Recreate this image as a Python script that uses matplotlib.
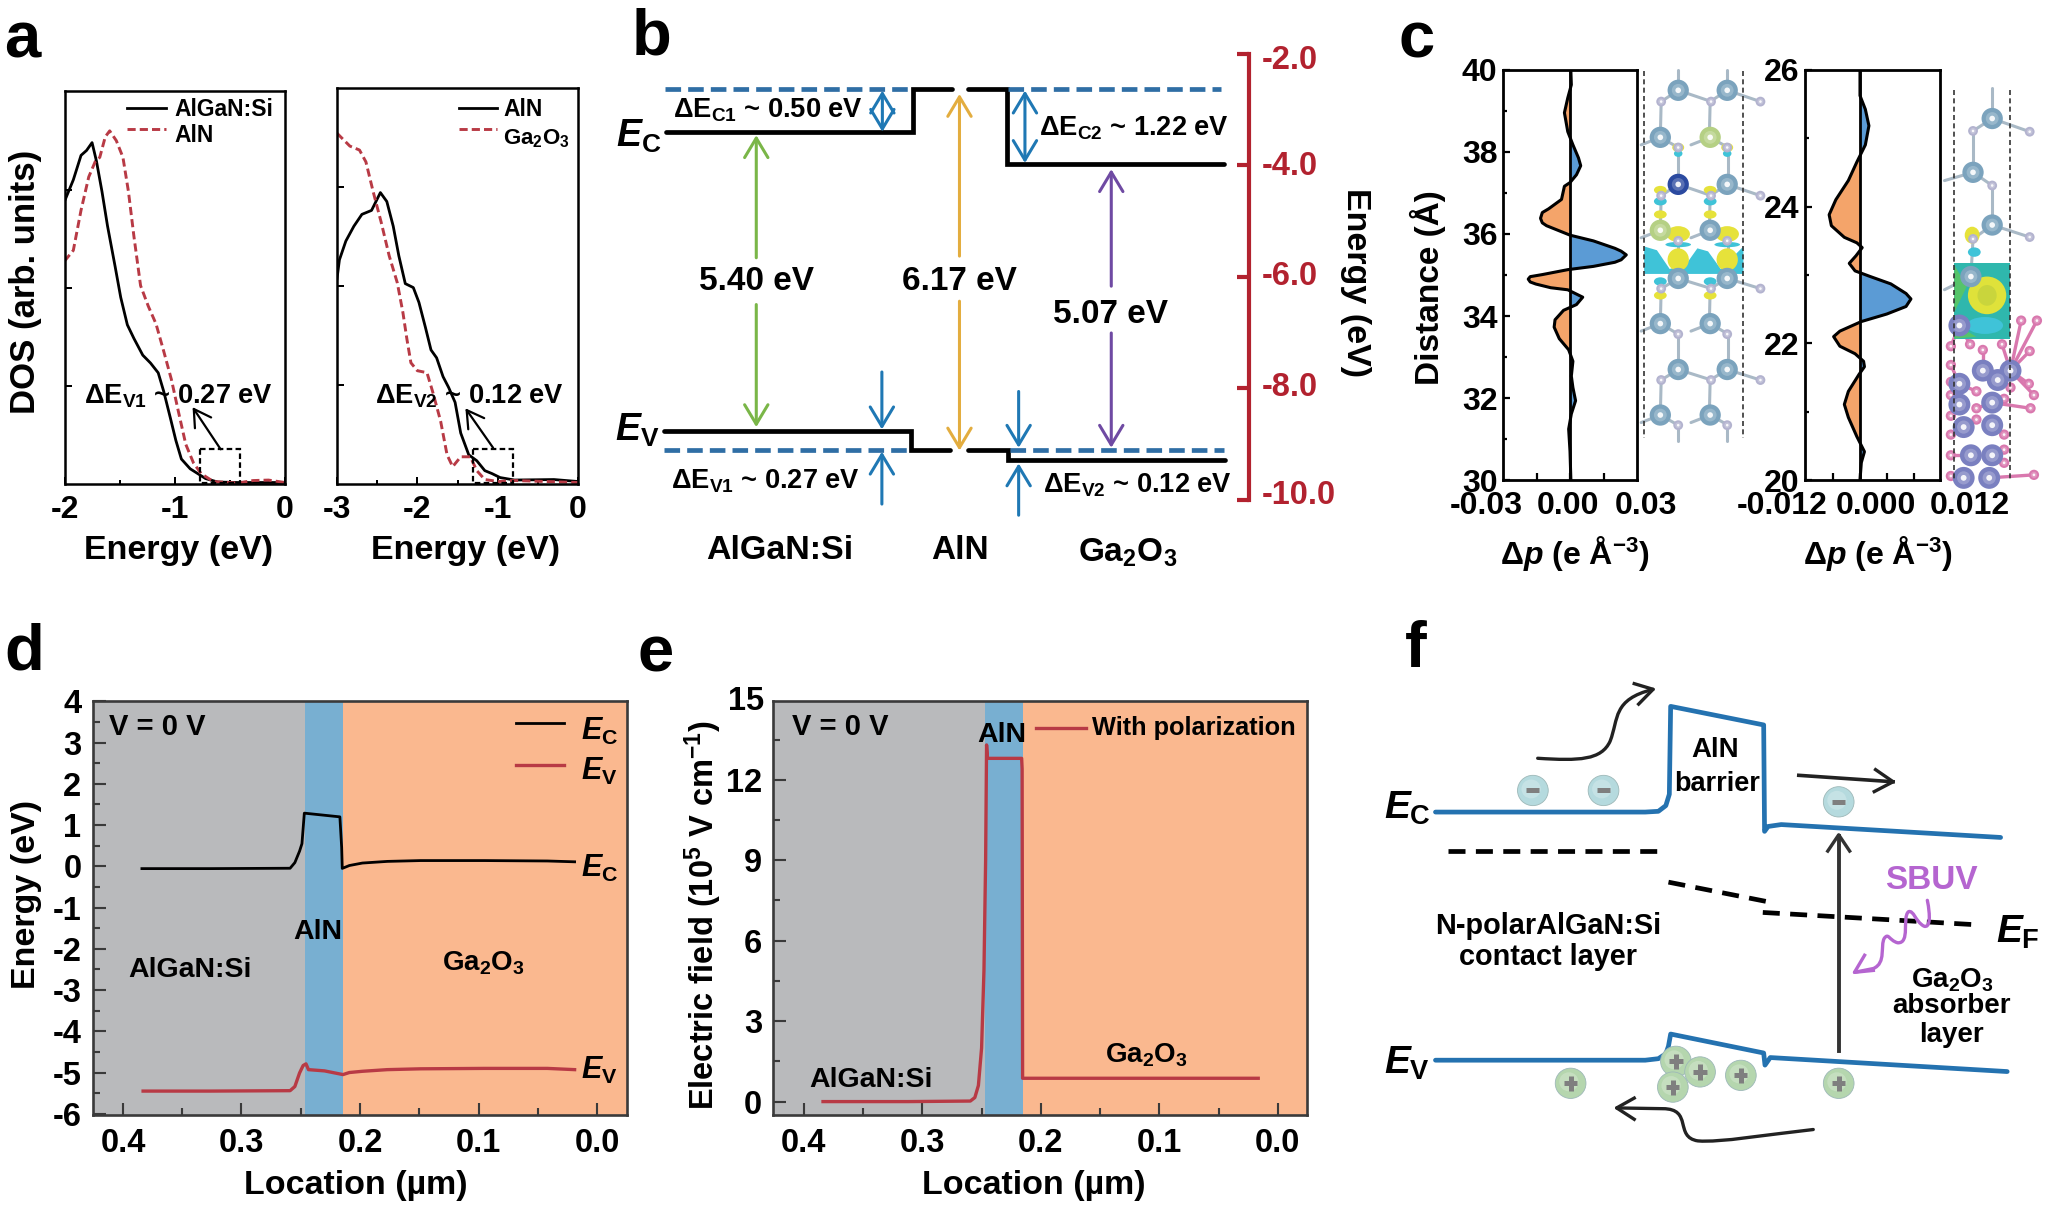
import numpy as np
import matplotlib
matplotlib.use("Agg")
import matplotlib.pyplot as plt
from matplotlib.patches import Ellipse, Rectangle, PathPatch, Polygon
from matplotlib.path import Path

W, H = 2048, 1214
plt.rcParams.update({
    "font.family": ["Liberation Sans", "DejaVu Sans"], "font.weight": "bold",
    "axes.labelweight": "bold", "axes.unicode_minus": False,
    "mathtext.fontset": "custom", "mathtext.rm": "Liberation Sans:bold",
    "mathtext.it": "Liberation Sans:italic:bold", "mathtext.bf": "Liberation Sans:bold",
    "mathtext.default": "rm",
})

# ---------- data ----------
a1_x = [-2.0,-1.92,-1.85,-1.80,-1.75,-1.71,-1.66,-1.61,-1.54,-1.49,-1.43,-1.37,-1.29,-1.22,-1.15,-1.10,-1.04,-0.99,-0.94,-0.86,-0.79,-0.72,-0.61,-0.43,0]
a1_algan = [2.88,3.10,3.35,3.40,3.48,3.29,2.98,2.63,2.21,1.90,1.62,1.48,1.31,1.23,1.13,0.94,0.67,0.44,0.25,0.15,0.10,0.05,0.015,0.01,0.01]
a1_x2 = [-2.0,-1.92,-1.85,-1.78,-1.72,-1.68,-1.63,-1.59,-1.53,-1.47,-1.42,-1.37,-1.31,-1.24,-1.17,-1.10,-1.03,-0.97,-0.90,-0.83,-0.76,-0.65,-0.43,-0.29,-0.15,0]
a1_aln = [2.27,2.38,2.79,3.13,3.29,3.33,3.54,3.60,3.50,3.33,2.98,2.52,2.02,1.81,1.63,1.35,1.06,0.75,0.40,0.21,0.10,0.02,0.005,0.03,0.035,0.01]
a2_x = [-3.0,-2.97,-2.89,-2.79,-2.69,-2.57,-2.46,-2.38,-2.30,-2.23,-2.15,-2.05,-1.98,-1.90,-1.83,-1.76,-1.68,-1.61,-1.53,-1.46,-1.36,-1.26,-1.16,-1.07,-0.97,-0.79,-0.30,0]
a2_aln = [2.07,2.26,2.45,2.60,2.72,2.76,2.94,2.85,2.60,2.30,2.02,1.98,1.83,1.58,1.35,1.27,1.08,0.97,0.82,0.51,0.29,0.23,0.13,0.10,0.06,0.035,0.04,0.02]
a2_x2 = [-3,-2.84,-2.72,-2.64,-2.55,-2.45,-2.35,-2.25,-2.18,-2.13,-2.08,-2.00,-1.88,-1.81,-1.71,-1.63,-1.56,-1.46,-1.34,-1.26,-1.16,-0.99,-0.79,0]
a2_ga = [3.54,3.41,3.37,3.25,2.95,2.64,2.30,2.03,1.73,1.46,1.22,1.14,1.12,0.93,0.63,0.29,0.17,0.27,0.27,0.13,0.04,0.02,0.03,0.01]

ec_algan, ec_aln, ec_ga = -3.40, -2.64, -3.98
ev_algan, ev_aln, ev_ga = -8.76, -9.11, -9.29

c1_dp = [.0004,.0006,-.001,-.0025,-.001,.0013,.0038,.0048,.0029,0,-.0025,-.0038,-.0096,-.0124,-.0132,-.0124,-.0105,0,.0105,.0201,.0229,.0252,.0229,.0201,.0105,-.001,-.0124,-.0178,-.0187,-.0178,-.0153,-.0086,-.001,.0057,.0029,-.0029,-.0067,-.0071,-.0048,-.0006,.0013,.0006,.0013,.0025,.0006,-.0006,0,.0004]
c1_d = [39.95,39.63,39.31,38.95,38.49,38.17,37.85,37.66,37.44,37.25,37.16,36.84,36.61,36.52,36.38,36.27,36.20,35.97,35.83,35.65,35.58,35.49,35.37,35.31,35.21,35.13,35.01,34.96,34.90,34.83,34.78,34.69,34.64,34.46,34.28,34.14,33.91,33.73,33.45,33.18,32.90,32.54,32.26,31.94,31.62,31.25,30.71,30.0]
c2_dp = [0,0,.0012,.0020,.0012,-.0007,-.0026,-.0054,-.0069,-.0064,-.0035,-.0007,.0005,-.0009,-.0024,-.0011,.0022,.0069,.0103,.0114,.0103,.0060,.0003,-.0045,-.0059,-.0045,-.0011,.0008,.0010,-.0002,-.0026,-.0035,-.0026,-.0007,.0010,.0003,0]
c2_d = [25.97,25.62,25.42,25.18,24.90,24.65,24.38,24.10,23.88,23.72,23.55,23.47,23.40,23.28,23.17,23.06,22.98,22.87,22.73,22.65,22.54,22.43,22.32,22.18,22.10,21.96,21.85,21.74,21.66,21.55,21.30,21.11,20.92,20.64,20.42,20.26,20.0]

d_loc_c = [.384,.326,.259,.255,.251,.249,.247,.237,.217,.2155,.215,.209,.198,.177,.149,.095,.042,.019]
d_ec = [-.055,-.055,-.046,.09,.37,.55,1.29,1.26,1.20,.46,-.05,.02,.08,.12,.14,.14,.13,.11]
d_loc_v = [.383,.326,.259,.255,.251,.248,.2456,.2435,.230,.2144,.209,.198,.177,.149,.095,.042,.019]
d_ev = [-5.45,-5.45,-5.44,-5.34,-5.01,-4.83,-4.79,-4.93,-4.96,-5.05,-5.0,-4.97,-4.93,-4.91,-4.90,-4.90,-4.93]
e_loc = [.3838,.312,.2595,.2557,.2527,.25,.248,.2466,.2458,.245,.2162,.2158,.2154,.0166]
e_field = [0,0,.02,.15,.6,2.0,4.9,9.0,13.3,12.8,12.8,12.4,.87,.87]
aln_band = (0.2467, 0.2147)

# ---------- helpers ----------
fig = plt.figure(figsize=(W/100, H/100), dpi=100, facecolor="white")

def axes_px(l, t, r, b, **kw):
    return fig.add_axes([l/W, 1-b/H, (r-l)/W, (b-t)/H], **kw)

def overlay(x, y, w, h):
    ax = fig.add_axes([x/W, 1-(y+h)/H, w/W, h/H], zorder=5)
    ax.set_xlim(0, 1568); ax.set_ylim(1568, 0); ax.axis("off")
    ax.patch.set_visible(False)
    return ax

def T(ax, x, y, s, size=20, ha="center", va="center", **kw):
    return ax.text(x, y, s, fontsize=size, ha=ha, va=va, fontweight="bold", clip_on=False, **kw)

def style(ax, lw=1.8, color="black", mlen=5, minlen=3):
    for s in ax.spines.values():
        s.set_linewidth(lw); s.set_color(color)
    ax.tick_params(which="major", direction="in", length=mlen, width=lw*0.8, color=color, pad=6, top=False, right=False)
    ax.tick_params(which="minor", direction="in", length=minlen, width=lw*0.8, color=color, top=False, right=False)

RED = "#b83a45"
DARK = "#b2222f"
ov_a = overlay(0, 0, 620, 590)
ov_b = overlay(620, 0, 760, 590)
ov_c = overlay(1380, 0, 668, 590)
ov_d = overlay(0, 620, 660, 594)
ov_e = overlay(640, 620, 700, 594)
ov_f = overlay(1360, 620, 688, 594)

# panel letters
for (ov, x, y, s) in [(ov_a, 57, 108, "a"), (ov_b, 66, 100, "b"), (ov_c, 85, 108, "c"),
                      (ov_d, 58, 85, "d"), (ov_e, 36, 92, "e"), (ov_f, 128, 78, "f")]:
    T(ov, x, y, s, size=47)

# ---------- a ----------
ax = axes_px(64.5, 90.7, 285, 483.5)
ax.plot(a1_x, a1_algan, color="black", lw=2)
ax.plot(a1_x2, a1_aln, color=RED, lw=2.1, dashes=(2.8, 1.4))
ax.set_xlim(-2, 0); ax.set_ylim(0, 4.01)
ax.set_xticks([-2, -1, 0]); ax.set_xticks([-1.5, -0.5], minor=True)
ax.set_yticks([1, 2, 3]); ax.set_yticklabels([])
style(ax); ax.tick_params(axis="x", labelsize=23, pad=8)

ax = axes_px(337, 87.7, 578, 483.5)
ax.plot(a2_x, a2_aln, color="black", lw=2)
ax.plot(a2_x2, a2_ga, color=RED, lw=2.1, dashes=(2.8, 1.4))
ax.set_xlim(-3, 0); ax.set_ylim(0, 4.0)
ax.set_xticks([-3, -2, -1, 0]); ax.set_xticks([-2.5, -1.5, -0.5], minor=True)
ax.set_yticks([1, 2, 3]); ax.set_yticklabels([])
style(ax); ax.tick_params(axis="x", labelsize=23, pad=8)

T(ov_a, 65, 750, "DOS (arb. units)", size=25, rotation=90)
T(ov_a, 452, 1462, "Energy (eV)", size=24.5)
T(ov_a, 1178, 1462, "Energy (eV)", size=24.5)
ov_a.plot([322, 420], [287, 287], color="black", lw=2)
ov_a.plot([322, 420], [343, 343], color=RED, lw=2.1, dashes=(2.8, 1.4))
T(ov_a, 442, 292, "AlGaN:Si", size=16.5, ha="left")
T(ov_a, 442, 360, "AlN", size=16.5, ha="left")
ov_a.plot([1160, 1258], [287, 287], color="black", lw=2)
ov_a.plot([1160, 1258], [343, 343], color=RED, lw=2.1, dashes=(2.8, 1.4))
T(ov_a, 1272, 292, "AlN", size=16.5, ha="left")
T(ov_a, 1272, 368, r"Ga$_{2}$O$_{3}$", size=16, ha="left")
T(ov_a, 212, 1052, r"ΔE$_{\mathrm{V1}}$ ~ 0.27 eV", size=19.6, ha="left")
T(ov_a, 948, 1052, r"ΔE$_{\mathrm{V2}}$ ~ 0.12 eV", size=19.6, ha="left")
for x0, x1 in [(507, 608), (1197, 1297)]:
    ov_a.add_patch(Rectangle((x0, 1194), x1-x0, 90, fill=False, ec="black", lw=1.6, ls=(0, (2.5, 1.5))))
for (p0, p1) in [((558, 1194), (487, 1082)), ((1247, 1190), (1177, 1085))]:
    ov_a.annotate("", xy=p1, xytext=p0, annotation_clip=False,
                  arrowprops=dict(arrowstyle="->,head_length=0.6,head_width=0.35", lw=1.6, color="black", shrinkA=0, shrinkB=0, mutation_scale=20))

# ---------- b ----------
axb = axes_px(620, 53.8, 1249, 499.6)
axb.patch.set_visible(False)
axb.set_xlim(0, 1297); axb.set_ylim(-10, -2)
for k in ("left", "top", "bottom"):
    axb.spines[k].set_visible(False)
axb.spines["right"].set_color(DARK); axb.spines["right"].set_linewidth(3)
axb.set_xticks([])
axb.yaxis.tick_right()
axb.set_yticks([-2, -4, -6, -8, -10]); axb.set_yticklabels([])
axb.tick_params(axis="y", direction="in", length=9, width=3, color=DARK)
for y_, s_ in zip([160, 442, 735, 1030, 1318], ["-2.0", "-4.0", "-6.0", "-8.0", "-10.0"]):
    T(ov_b, 1325, y_, s_, size=23.5, ha="left", color=DARK)
lk = dict(color="black", lw=3.4, solid_capstyle="round", solid_joinstyle="miter", clip_on=False)
axb.plot([95, 605, 605, 685], [ec_algan, ec_algan, ec_aln, ec_aln], **lk)
axb.plot([718, 797, 797, 1245], [ec_aln, ec_aln, ec_ga, ec_ga], **lk)
axb.plot([90, 600, 600, 680], [ev_algan, ev_algan, ev_aln, ev_aln], **lk)
axb.plot([718, 800, 800, 1248], [ev_aln, ev_aln, ev_ga, ev_ga], **lk)
dk = dict(color="#2f6ea5", lw=3.4, dashes=(3.3, 1.5), clip_on=False)
axb.plot([92, 600], [ec_aln, ec_aln], **dk); axb.plot([800, 1240], [ec_aln, ec_aln], **dk)
axb.plot([90, 595], [ev_aln, ev_aln], **dk); axb.plot([805, 1245], [ev_aln, ev_aln], **dk)

def arr(x, y0, y1, c, st="->"):
    axb.annotate("", xy=(x, y1), xytext=(x, y0), annotation_clip=False,
                 arrowprops=dict(arrowstyle=f"{st},head_length=0.7,head_width=0.42", color=c, lw=2.2, shrinkA=0, shrinkB=0, mutation_scale=20))
GRN, ORG, PUR, BLU = "#7ab648", "#e3ad3f", "#6f4aa3", "#1f78b4"
arr(281, -5.66, -3.46, GRN); arr(281, -6.50, -8.70, GRN)
arr(700, -5.63, -2.72, ORG); arr(700, -6.44, -9.12, ORG)
arr(1013, -6.17, -4.07, PUR); arr(1013, -7.01, -9.07, PUR)
arr(541, -3.40, -2.66, BLU, "<->"); arr(835, -3.96, -2.66, BLU, "<->")
arr(540, -7.71, -8.74, BLU); arr(540, -10.08, -9.14, BLU)
arr(822, -8.06, -9.07, BLU); arr(822, -10.28, -9.35, BLU)

T(ov_b, 110, 292, r"ΔE$_{\mathrm{C1}}$ ~ 0.50 eV", size=19.6, ha="left")
T(ov_b, 865, 340, r"ΔE$_{\mathrm{C2}}$ ~ 1.22 eV", size=19.6, ha="left")
T(ov_b, 105, 1279, r"ΔE$_{\mathrm{V1}}$ ~ 0.27 eV", size=19.6, ha="left")
T(ov_b, 873, 1289, r"ΔE$_{\mathrm{V2}}$ ~ 0.12 eV", size=19.6, ha="left")
T(ov_b, 281, 747, "5.40 eV", size=24)
T(ov_b, 700, 747, "6.17 eV", size=24)
T(ov_b, 1013, 835, "5.07 eV", size=24)
T(ov_b, 330, 1462, "AlGaN:Si", size=24.5)
T(ov_b, 702, 1462, "AlN", size=24)
T(ov_b, 1047, 1470, r"Ga$_{2}$O$_{3}$", size=24)
T(ov_b, 1518, 750, "Energy (eV)", size=24.5, rotation=270)
T(ov_b, 38, 362, r"$\mathit{E}_{\mathrm{C}}$", size=27)
T(ov_b, 35, 1145, r"$\mathit{E}_{\mathrm{V}}$", size=27)

# ---------- c ----------
BL, OR = "#5b9bd5", "#f4a46a"
for (l, r, xl, dp, d, yl, maj, mnr, xt, labs, lx) in [
    (1503, 1637, (-0.03, 0.03), c1_dp, c1_d, (30, 40), [30, 32, 34, 36, 38, 40], [31, 33, 35, 37, 39],
     [-0.015, 0, 0.015], ["-0.03", "0.00", "0.03"], [250, 442, 625]),
    (1805, 1940, (-0.0123, 0.0179), c2_dp, c2_d, (20, 26), [20, 22, 24, 26], [21, 23, 25],
     [-0.006, 0, 0.006, 0.012], ["-0.012", "0.000", "0.012"], [945, 1165, 1385])]:
    ax = axes_px(l, 69.6, r, 480.4)
    dp = np.array(dp); d = np.array(d)
    ax.fill_betweenx(d, 0, dp, where=dp >= 0, color=BL, lw=0, interpolate=True)
    ax.fill_betweenx(d, 0, dp, where=dp <= 0, color=OR, lw=0, interpolate=True)
    ax.axvline(0, color="black", lw=2)
    ax.plot(dp, d, color="black", lw=2.2, solid_joinstyle="round")
    ax.set_xlim(*xl); ax.set_ylim(*yl)
    ax.set_yticks(maj); ax.set_yticks(mnr, minor=True)
    ax.set_xticks(xt); ax.set_xticklabels([])
    style(ax, lw=2); ax.tick_params(axis="y", labelsize=23, pad=4)
    for x_, s_ in zip(lx, labs):
        T(ov_c, x_, 1345, s_, size=23)
T(ov_c, 112, 765, "Distance (Å)", size=24, rotation=90)
T(ov_c, 458, 1470, r"Δ$\mathit{p}$ (e Å$^{-3}$)", size=23)
T(ov_c, 1168, 1470, r"Δ$\mathit{p}$ (e Å$^{-3}$)", size=23)

# structures (diagram, in crop coordinates)
STEEL, SM, GR = "#7ba3bd", "#b3b3cf", "#b5d084"
rows_big = [240, 365, 490, 612, 740, 860, 982, 1103]
rows_small = [270, 392, 520, 640, 767, 888, 1010, 1130]
xa = [(700, 815), (658, 775)]
xs = [(660, 777, 893), (700, 815)]
bond = dict(color="#a9b9c6", lw=2.2, zorder=1, solid_capstyle="round")
bigs, smalls = [], []
for i, y in enumerate(rows_big):
    for x in xa[i % 2]:
        bigs.append((x, y))
for i, y in enumerate(rows_small):
    for x in xs[i % 2]:
        smalls.append((x, y))
for i in range(8):
    for x in xa[i % 2]:
        yb, ys = rows_big[i], rows_small[i]
        if i % 2 == 0:
            ov_c.plot([x, x-40], [yb, ys], **bond)
            ov_c.plot([x, x+78], [yb, ys], **bond)
            if i+1 < 8:
                ov_c.plot([x-40, x-42], [ys, rows_big[i+1]], **bond)
        else:
            ov_c.plot([x, x+42], [yb, ys], **bond)
            ov_c.plot([x, x-45], [yb, yb+20], **bond)
            if i+1 < 8:
                ov_c.plot([x+42, x+42], [ys, rows_big[i+1]], **bond)
ov_c.plot([700, 700], [185, 240], **bond); ov_c.plot([815, 815], [185, 240], **bond)
ov_c.plot([700, 700], [1130, 1172], **bond); ov_c.plot([815, 815], [1130, 1172], **bond)

ov_c.add_patch(Polygon([(620, 655), (650, 665), (680, 715), (720, 700), (745, 660), (770, 668), (800, 715), (853, 655),
                        (853, 728), (620, 728)], fc="#3fc3d8", ec="none", zorder=2))
for x in (700, 815):
    ov_c.add_patch(Ellipse((x, 622), 55, 42, fc="#e6e23a", ec="none", zorder=3))
    ov_c.add_patch(Ellipse((x, 690), 50, 60, fc="#e6e23a", ec="none", zorder=3))
    ov_c.add_patch(Ellipse((x, 650), 60, 14, fc="#3fc3d8", ec="none", zorder=3))
for x in (658, 775):
    for y, c in [(505, "#e6e23a"), (535, "#3fc3d8"), (570, "#e6e23a"), (748, "#3fc3d8"), (785, "#e6e23a")]:
        ov_c.add_patch(Ellipse((x, y), 30, 22, fc=c, ec="none", zorder=3))
for x in (700, 815):
    ov_c.add_patch(Ellipse((x, 392), 28, 24, fc="#e6e23a", ec="none", zorder=3))
    ov_c.add_patch(Ellipse((x, 408), 20, 18, fc="#3fc3d8", ec="none", zorder=3))

def balls(pts, c, s, z=4):
    px, py = zip(*pts)
    ov_c.scatter(px, py, s=s, c=c, edgecolors="none", zorder=z)
    ov_c.scatter(px, py, s=s*0.36, c="white", alpha=0.22, edgecolors="none", zorder=z+0.05)
    ov_c.scatter(px, py, s=s*0.07, c="white", alpha=0.9, edgecolors="none", zorder=z+0.1)

balls(smalls, SM, 50)
colors = {(775, 365): GR, (700, 490): "#2b4aa0", (658, 612): GR}
balls(bigs, [colors.get(p, STEEL) for p in bigs], 235)

for x in (620, 853):
    ov_c.plot([x, x], [190, 1165], color="#333333", lw=1.2, ls=(0, (3, 2)), zorder=5)

# right structure
teal = "#2fb7ad"
ov_c.add_patch(Rectangle((1348, 700), 130, 200, fc=teal, ec="none", zorder=2))
ov_c.add_patch(Polygon([(1348, 705), (1378, 760), (1348, 830)], fc="#55c46a", ec="none", zorder=2.1))
ov_c.add_patch(Polygon([(1348, 860), (1400, 895), (1348, 900)], fc="#55c46a", ec="none", zorder=2.1))
ov_c.add_patch(Ellipse((1425, 785), 90, 100, fc="#dfe23a", ec="none", zorder=3))
ov_c.add_patch(Ellipse((1425, 785), 45, 55, fc="#c9d53c", ec="none", zorder=3.1))
ov_c.add_patch(Ellipse((1420, 865), 85, 45, fc="#3fc3d8", ec="none", zorder=3))
ov_c.add_patch(Ellipse((1390, 625), 35, 45, fc="#e6e23a", ec="none", zorder=3))
ov_c.add_patch(Ellipse((1395, 670), 30, 25, fc="#3fc3d8", ec="none", zorder=3))
big2 = [(1437, 315), (1392, 458), (1437, 598), (1387, 735)]
small2 = [(1392, 348), (1525, 350), (1437, 493), (1525, 630), (1392, 635)]
for a_, b_ in [((1437, 235), (1437, 315)), ((1437, 315), (1392, 348)), ((1437, 315), (1525, 350)), ((1392, 348), (1392, 458)),
               ((1392, 458), (1325, 480)), ((1392, 458), (1437, 493)), ((1437, 493), (1437, 598)), ((1437, 598), (1525, 630)),
               ((1437, 598), (1392, 635)), ((1392, 635), (1387, 735)), ((1387, 735), (1325, 770))]:
    ov_c.plot([a_[0], b_[0]], [a_[1], b_[1]], **bond)
PK, PU = "#d978ae", "#7a80c0"
pink = [(1505, 852), (1542, 852), (1340, 920), (1340, 970), (1525, 933), (1340, 1015), (1385, 915), (1523, 1020), (1535, 1050),
        (1527, 1085), (1340, 1050), (1340, 1105), (1340, 1155), (1340, 1210), (1340, 1265), (1465, 1155), (1465, 1195), (1465, 1230),
        (1535, 1262), (1400, 1085), (1400, 1115), (1460, 915), (1465, 1060), (1415, 930), (1400, 1040), (1480, 1030)]
purple = [(1360, 865), (1480, 985), (1415, 985), (1450, 1010), (1360, 1020), (1360, 1075), (1437, 1070), (1437, 1130), (1370, 1135),
          (1387, 1210), (1437, 1210), (1370, 1270), (1430, 1270)]
for (px_, py_) in pink:
    near = min(purple, key=lambda p: (p[0]-px_)**2 + (p[1]-py_)**2)
    ov_c.plot([px_, near[0]], [py_, near[1]], color=PK, lw=2.4, zorder=1.5)
balls(small2, SM, 50)
balls(big2, STEEL, 235)
balls(pink, PK, 55, z=3.5)
balls(purple, PU, 250, z=3.7)
for x in (1348, 1478):
    ov_c.plot([x, x], [240, 1277], color="#333333", lw=1.2, ls=(0, (3, 2)), zorder=6)

# ---------- d ----------
GREY, BAND, PEACH, SP = "#b9babc", "#78afd1", "#fab88f", "#3a3a3a"
ax = axes_px(92.6, 701.4, 627, 1115)
ax.axvspan(0.4256, aln_band[0], color=GREY, lw=0)
ax.axvspan(aln_band[0], aln_band[1], color=BAND, lw=0)
ax.axvspan(aln_band[1], -0.0252, color=PEACH, lw=0)
ax.plot(d_loc_c, d_ec, color="black", lw=2)
ax.plot(d_loc_v, d_ev, color=RED, lw=2.4)
ax.set_xlim(0.4256, -0.0252); ax.set_ylim(-6.03, 4.0)
ax.set_xticks([.4, .3, .2, .1, 0]); ax.set_xticks([.35, .25, .15, .05], minor=True)
ax.set_xticklabels(["0.4", "0.3", "0.2", "0.1", "0.0"])
ax.set_yticks(range(-6, 5)); ax.set_yticks(np.arange(-5.5, 4, 1), minor=True)
style(ax, lw=1.9, color=SP, mlen=9, minlen=5)
ax.tick_params(labelsize=23.5, labelcolor="black")
ax.tick_params(axis="x", pad=9); ax.tick_params(axis="y", pad=8)
T(ov_d, 62, 725, "Energy (eV)", size=24.5, rotation=90)
T(ov_d, 845, 1492, "Location (µm)", size=24.5)
T(ov_d, 260, 283, "V = 0 V", size=21, ha="left")
T(ov_d, 756, 823, "AlN", size=20.5)
T(ov_d, 452, 923, "AlGaN:Si", size=20.5)
T(ov_d, 1148, 905, r"Ga$_{2}$O$_{3}$", size=20)
ov_d.plot([1225, 1340], [273, 273], color="black", lw=2)
ov_d.plot([1225, 1340], [382, 382], color=RED, lw=2.4)
for y, s in [(295, r"$\mathit{E}_{\mathrm{C}}$"), (400, r"$\mathit{E}_{\mathrm{V}}$"),
             (655, r"$\mathit{E}_{\mathrm{C}}$"), (1190, r"$\mathit{E}_{\mathrm{V}}$")]:
    T(ov_d, 1380, y, s, size=22, ha="left")

# ---------- e ----------
ax = axes_px(773, 700.7, 1307.4, 1115)
ax.axvspan(0.426, 0.247, color=GREY, lw=0)
ax.axvspan(0.247, 0.2154, color=BAND, lw=0)
ax.axvspan(0.2154, -0.0249, color=PEACH, lw=0)
ax.plot(e_loc, e_field, color=RED, lw=2.4)
ax.set_xlim(0.426, -0.0249); ax.set_ylim(-0.5, 14.95)
ax.set_xticks([.4, .3, .2, .1, 0]); ax.set_xticks([.35, .25, .15, .05], minor=True)
ax.set_xticklabels(["0.4", "0.3", "0.2", "0.1", "0.0"])
ax.set_yticks([0, 3, 6, 9, 12]); ax.set_yticks([1.5, 4.5, 7.5, 10.5, 13.5], minor=True)
style(ax, lw=1.9, color=SP, mlen=9, minlen=5)
ax.tick_params(labelsize=23.5, labelcolor="black")
ax.tick_params(axis="x", pad=9); ax.tick_params(axis="y", pad=8)
T(ov_e, 238, 215, "15", size=23.5)
T(ov_e, 142, 780, r"Electric field (10$^{5}$ V cm$^{-1}$)", size=23.5, rotation=90)
T(ov_e, 882, 1492, "Location (µm)", size=24.5)
T(ov_e, 340, 283, "V = 0 V", size=21, ha="left")
T(ov_e, 810, 303, "AlN", size=20.5)
T(ov_e, 517, 1213, "AlGaN:Si", size=20.5)
T(ov_e, 1135, 1150, r"Ga$_{2}$O$_{3}$", size=20)
ov_e.plot([888, 998], [286, 286], color=RED, lw=2.4)
T(ov_e, 1012, 285, "With polarization", size=18.3, ha="left")

# ---------- f (schematic, in crop coordinates) ----------
FB = "#2472b0"
fk = dict(color=FB, lw=3.4, solid_joinstyle="round", solid_capstyle="round")
ec_x = [172, 650, 680, 697, 705, 708, 920, 922, 930, 960, 1460]
ec_y = [507, 507, 505, 490, 460, 228, 277, 558, 545, 540, 574]
ev_x = [172, 650, 680, 697, 703, 708, 920, 923, 935, 1475]
ev_y = [1162, 1162, 1158, 1145, 1125, 1093, 1143, 1175, 1155, 1192]
ov_f.plot(ec_x, ec_y, **fk)
ov_f.plot(ev_x, ev_y, **fk)
ef = dict(color="black", lw=3.4, dashes=(3.6, 2.2))
ov_f.plot([200, 697], [611, 611], **ef)
ov_f.plot([703, 935], [692, 745], **ef)
ov_f.plot([918, 1412], [772, 805], **ef)

def charge(x, y, c, sign):
    ov_f.add_patch(Ellipse((x, y), 70, 80, fc=c, ec="#9db8b8", lw=0.6, zorder=3))
    ov_f.add_patch(Ellipse((x-4, y-4), 44, 50, fc="white", ec="none", alpha=0.22, zorder=3.1))
    ov_f.plot([x-15, x+15], [y, y], color="#7f7f7f", lw=3.6, solid_capstyle="butt", zorder=4)
    if sign > 0:
        ov_f.plot([x, x], [y-20, y+20], color="#7f7f7f", lw=3.6, solid_capstyle="butt", zorder=4)

for x, y in [(394, 450), (555, 450), (1091, 480)]:
    charge(x, y, "#b5dade", -1)
for x, y in [(480, 1223), (720, 1165), (775, 1193), (868, 1202), (713, 1233), (1091, 1223)]:
    charge(x, y, "#b5d6ae", 1)

curve = dict(fill=False, ec="#222222", lw=2.4, capstyle="round", joinstyle="round")
ov_f.add_patch(PathPatch(Path([(405, 365), (500, 372), (550, 370), (570, 320), (590, 260), (575, 210), (668, 183)],
                              [1, 4, 4, 4, 4, 4, 4]), **curve))
ov_f.plot([625, 668, 635], [168, 183, 222], color="#222222", lw=2.4, solid_joinstyle="round")
ov_f.add_patch(PathPatch(Path([(1033, 1345), (930, 1358), (820, 1380), (770, 1375), (715, 1365), (760, 1290), (690, 1290), (585, 1288)],
                              [1, 4, 4, 4, 4, 4, 4, 2]), **curve))
ov_f.plot([625, 585, 625], [1262, 1288, 1318], color="#222222", lw=2.4, solid_joinstyle="round")
ov_f.plot([1000, 1215], [410, 427], color="#222222", lw=2.6)
ov_f.plot([1175, 1215, 1172], [395, 427, 453], color="#222222", lw=2.4, solid_joinstyle="round")
ov_f.plot([1091, 1091], [1138, 570], color="#333333", lw=2.8)
ov_f.plot([1066, 1091, 1116], [610, 567, 610], color="#333333", lw=2.4, solid_joinstyle="round")
PUV = "#b565d0"
ov_f.add_patch(PathPatch(Path([(1293, 740), (1300, 780), (1300, 815), (1285, 808), (1265, 795), (1262, 765), (1250, 770),
                               (1235, 785), (1255, 855), (1225, 852), (1205, 845), (1205, 825), (1195, 840),
                               (1185, 860), (1200, 905), (1170, 920), (1127, 930)],
                              [1, 4, 4, 4, 4, 4, 4, 4, 4, 4, 4, 4, 4, 4, 4, 4, 2]),
                         fill=False, ec=PUV, lw=2.4, capstyle="round", joinstyle="round", zorder=6))
ov_f.plot([1150, 1127, 1170], [885, 930, 925], color=PUV, lw=2.4, zorder=6)

T(ov_f, 810, 342, "AlN", size=20)
T(ov_f, 815, 433, "barrier", size=19.5)
T(ov_f, 428, 807, "N-polarAlGaN:Si", size=20.8)
T(ov_f, 428, 890, "contact layer", size=20.8)
T(ov_f, 1350, 950, r"Ga$_{2}$O$_{3}$", size=20)
T(ov_f, 1348, 1020, "absorber", size=20)
T(ov_f, 1348, 1095, "layer", size=20)
T(ov_f, 1302, 687, "SBUV", size=24, color=PUV)
T(ov_f, 107, 497, r"$\mathit{E}_{\mathrm{C}}$", size=28)
T(ov_f, 107, 1170, r"$\mathit{E}_{\mathrm{V}}$", size=28)
T(ov_f, 1500, 825, r"$\mathit{E}_{\mathrm{F}}$", size=28)

fig.savefig("out.png", dpi=100)
